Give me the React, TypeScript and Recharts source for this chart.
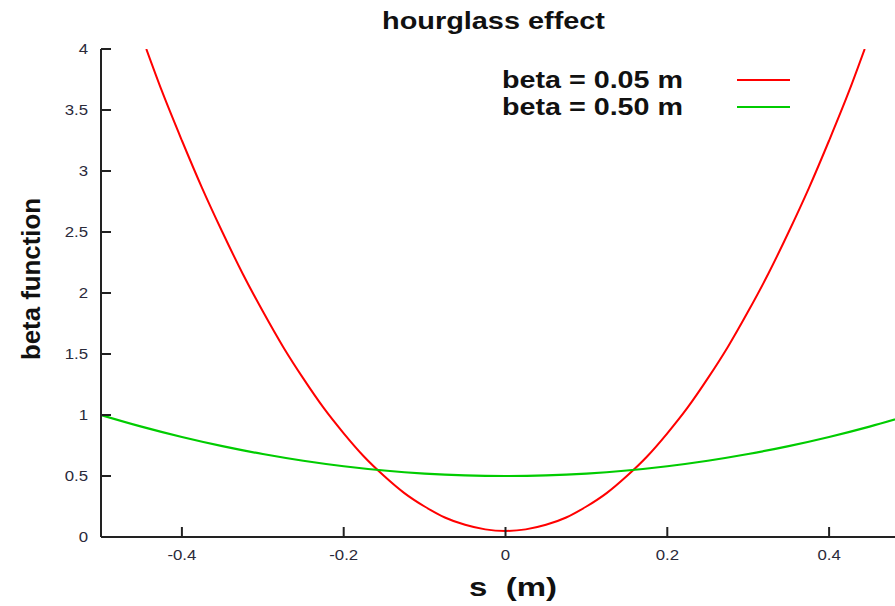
import React from "react";
import { LineChart, Line, XAxis, YAxis, Customized } from "recharts";

// s positions (m) and beta values
const sRed = [-0.444, -0.425, -0.4, -0.375, -0.35, -0.325, -0.3, -0.275, -0.25, -0.225, -0.2, -0.175, -0.15, -0.125, -0.1, -0.075, -0.05, -0.025, 0, 0.025, 0.05, 0.075, 0.1, 0.125, 0.15, 0.175, 0.2, 0.225, 0.25, 0.275, 0.3, 0.325, 0.35, 0.375, 0.4, 0.425, 0.444];
const betaRed = [4.0, 3.66, 3.25, 2.86, 2.5, 2.16, 1.85, 1.56, 1.3, 1.06, 0.85, 0.66, 0.5, 0.36, 0.25, 0.16, 0.1, 0.0625, 0.05, 0.0625, 0.1, 0.16, 0.25, 0.36, 0.5, 0.66, 0.85, 1.06, 1.3, 1.56, 1.85, 2.16, 2.5, 2.86, 3.25, 3.66, 4.0];

const sGreen = [-0.5, -0.45, -0.4, -0.35, -0.3, -0.25, -0.2, -0.15, -0.1, -0.05, 0, 0.05, 0.1, 0.15, 0.2, 0.25, 0.3, 0.35, 0.4, 0.45, 0.5];
const betaGreen = [1.0, 0.905, 0.82, 0.745, 0.68, 0.625, 0.58, 0.545, 0.52, 0.505, 0.5, 0.505, 0.52, 0.545, 0.58, 0.625, 0.68, 0.745, 0.82, 0.905, 1.0];

const seriesNames = ["beta = 0.05 m", "beta = 0.50 m"];
const seriesColors = ["#ff0000", "#00cc00"];

const xTicks = [-0.4, -0.2, 0, 0.2, 0.4];
const xTickLabels = ["-0.4", "-0.2", "0", "0.2", "0.4"];
const yTicks = [0, 0.5, 1, 1.5, 2, 2.5, 3, 3.5, 4];
const yTickLabels = ["0", "0.5", "1", "1.5", "2", "2.5", "3", "3.5", "4"];

const titleText = "hourglass effect";
const xLabelText = "s  (m)";
const yLabelText = "beta function";

const redData = sRed.map((s, i) => ({ s, beta: betaRed[i] }));
const greenData = sGreen.map((s, i) => ({ s, beta: betaGreen[i] }));

const FONT = "'Liberation Sans', Arial, Helvetica, sans-serif";
const AXIS = "#222";
const M = 20;

const fmt = (v: number, ticks: number[], labels: string[]) => {
  const i = ticks.findIndex((t) => Math.abs(t - v) < 1e-9);
  return i >= 0 ? labels[i] : String(v);
};

const BottomTick = (props: any) => {
  const { x, y, payload } = props;
  const axisY = y - M;
  return (
    <g>
      <line x1={x} x2={x} y1={axisY} y2={axisY - 10} stroke={AXIS} strokeWidth={2} />
      <text
        transform={`translate(${x} ${axisY + 23}) scale(1.2 1)`}
        textAnchor="middle"
        fontFamily={FONT}
        fontSize={14}
        fill="#2a2a3a"
      >
        {fmt(payload.value, xTicks, xTickLabels)}
      </text>
    </g>
  );
};

const TopTick = (props: any) => {
  const { x, y } = props;
  const axisY = y + M;
  return <line x1={x} x2={x} y1={axisY} y2={axisY + 10} stroke={AXIS} strokeWidth={2} />;
};

const LeftTick = (props: any) => {
  const { x, y, payload } = props;
  const axisX = x + M;
  return (
    <g>
      <line x1={axisX} x2={axisX + 10} y1={y} y2={y} stroke={AXIS} strokeWidth={2} />
      <text
        transform={`translate(${axisX - 13} ${y + 5}) scale(1.2 1)`}
        textAnchor="end"
        fontFamily={FONT}
        fontSize={14}
        fill="#2a2a3a"
      >
        {fmt(payload.value, yTicks, yTickLabels)}
      </text>
    </g>
  );
};

const Decorations = () => (
  <g fontFamily={FONT} fontWeight="bold" fill="#111">
    <text x={382} y={29} fontSize={24} textLength={223} lengthAdjust="spacingAndGlyphs">
      {titleText}
    </text>
    <text
      x={469}
      y={596}
      fontSize={26}
      textLength={88}
      lengthAdjust="spacingAndGlyphs"
      style={{ whiteSpace: "pre" }}
    >
      {xLabelText}
    </text>
    <text
      transform="translate(40 360) rotate(-90)"
      x={0}
      y={0}
      fontSize={26}
      textLength={162}
      lengthAdjust="spacingAndGlyphs"
    >
      {yLabelText}
    </text>
    {seriesNames.map((name, i) => (
      <g key={name}>
        <text x={502} y={88 + i * 27} fontSize={24} textLength={181} lengthAdjust="spacingAndGlyphs">
          {name}
        </text>
        <line x1={737} x2={790} y1={80 + i * 27} y2={80 + i * 27} stroke={seriesColors[i]} strokeWidth={2} />
      </g>
    ))}
  </g>
);

export default function App() {
  return (
    <div style={{ position: "absolute", left: 0, top: 0, width: 895, height: 606, overflow: "hidden", background: "#fff" }}>
      <LineChart width={920} height={606} margin={{ top: 49, right: 10, left: 41, bottom: 39 }}>
        <XAxis
          xAxisId={0}
          type="number"
          dataKey="s"
          domain={[-0.5, 0.5]}
          ticks={xTicks}
          allowDataOverflow
          height={30}
          tickSize={0}
          tickMargin={M}
          tickLine={false}
          axisLine={{ stroke: AXIS, strokeWidth: 2 }}
          tick={<BottomTick />}
          interval={0}
        />
        <XAxis
          xAxisId="top"
          orientation="top"
          type="number"
          dataKey="s"
          domain={[-0.5, 0.5]}
          ticks={xTicks}
          allowDataOverflow
          height={0}
          tickSize={0}
          tickMargin={M}
          tickLine={false}
          axisLine={{ stroke: AXIS, strokeWidth: 2 }}
          tick={<TopTick />}
          interval={0}
        />
        <YAxis
          type="number"
          domain={[0, 4]}
          ticks={yTicks}
          allowDataOverflow
          width={60}
          tickSize={0}
          tickMargin={M}
          tickLine={false}
          axisLine={{ stroke: AXIS, strokeWidth: 2 }}
          tick={<LeftTick />}
          interval={0}
        />
        <Line
          data={redData}
          dataKey="beta"
          type="monotone"
          stroke={seriesColors[0]}
          strokeWidth={2}
          dot={false}
          isAnimationActive={false}
        />
        <Line
          data={greenData}
          dataKey="beta"
          type="monotone"
          stroke={seriesColors[1]}
          strokeWidth={2.2}
          dot={false}
          isAnimationActive={false}
        />
        <Customized component={Decorations} />
      </LineChart>
    </div>
  );
}
